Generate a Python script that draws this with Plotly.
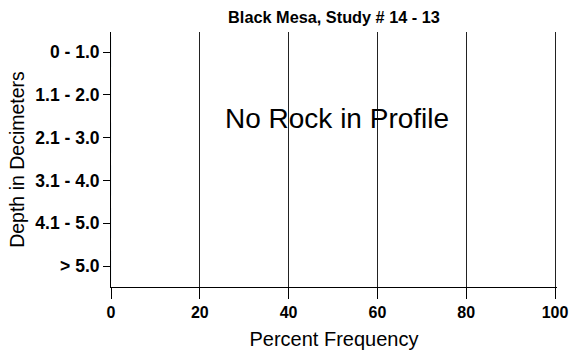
import plotly.graph_objects as go

depth_classes = ["0 - 1.0", "1.1 - 2.0", "2.1 - 3.0", "3.1 - 4.0", "4.1 - 5.0", "> 5.0"]
rock_frequency = [0, 0, 0, 0, 0, 0]
x_ticks = [0, 20, 40, 60, 80, 100]
title_text = "Black Mesa, Study # 14 - 13"
note_text = "No Rock in Profile"

FONT = "Liberation Sans, Arial, sans-serif"
W, H = 570, 350

fig = go.Figure()
fig.add_trace(go.Bar(
    x=rock_frequency, y=depth_classes, orientation="h",
    marker=dict(color="#808080"), showlegend=False, hoverinfo="skip",
))

fig.add_annotation(
    x=50.9, y=1.55, xref="x", yref="y", text=note_text, showarrow=False,
    font=dict(family=FONT, size=28, color="black"),
)

fig.update_layout(
    width=W, height=H,
    margin=dict(l=111, r=13, t=32, b=63, autoexpand=False),
    paper_bgcolor="white", plot_bgcolor="white",
    title=dict(text="<b>" + title_text + "</b>", x=285 / W, xanchor="center", xref="paper",
               y=1 - 17 / H, yanchor="middle",
               font=dict(family=FONT, size=16.3, color="black")),
    font=dict(family=FONT, color="black"),
    bargap=0.3,
)

# range extends slightly past 100 so the grid line at 100 is drawn
fig.update_xaxes(
    range=[0, 100.45], tickvals=x_ticks, ticktext=["<b>%d</b>" % v for v in x_ticks],
    tickfont=dict(family=FONT, size=16, color="black"),
    showline=True, linecolor="black", linewidth=1,
    ticks="outside", ticklen=11, tickcolor="black", tickwidth=1,
    showgrid=True, gridcolor="#222222", gridwidth=1,
    zeroline=False, fixedrange=True, automargin=False,
    title=dict(text="Percent Frequency", font=dict(family=FONT, size=20, color="black"), standoff=12),
)

fig.update_yaxes(
    type="category", categoryorder="array", categoryarray=depth_classes,
    range=[5.49, -0.47],
    tickvals=depth_classes, ticktext=["<b>" + c + "</b>" for c in depth_classes],
    tickfont=dict(family=FONT, size=17.5, color="black"),
    showline=True, linecolor="black", linewidth=1,
    ticks="outside", ticklen=7, tickcolor="black", tickwidth=1,
    showgrid=False, zeroline=False, fixedrange=True, automargin=False,
    title=dict(text="Depth in Decimeters", font=dict(family=FONT, size=19.5, color="black"), standoff=5),
)

fig.write_html(
    "out.html",
    config={"displayModeBar": False, "staticPlot": True},
    post_script="document.body.style.margin='0px';document.body.style.overflow='hidden';",
)
